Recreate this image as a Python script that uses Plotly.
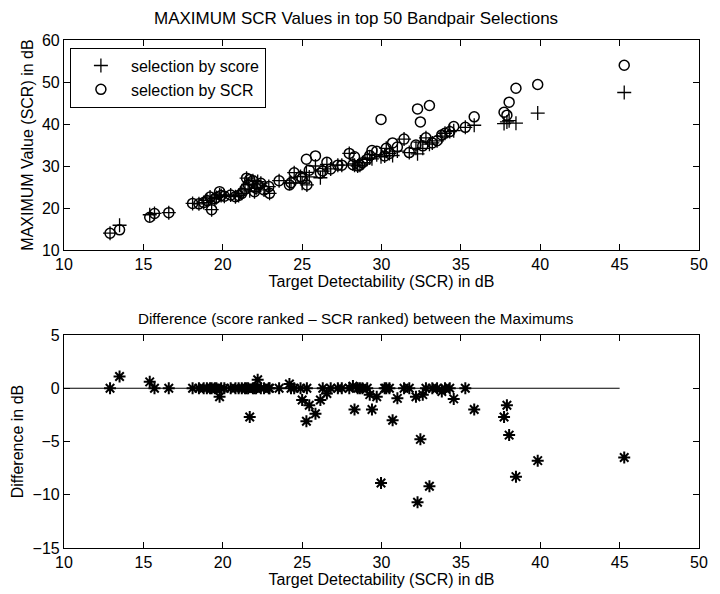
import plotly.graph_objects as go

# Target detectability (SCR) in dB for each case
target_db = [12.9, 13.5, 15.4, 15.7, 16.6, 18.1, 18.5, 18.8, 19.0, 19.2,
             19.3, 19.5, 19.6, 19.8, 19.9, 20.1, 20.5, 20.8, 21.0, 21.2,
             21.4, 21.5, 21.6, 21.7, 21.9, 22.0, 22.1, 22.2, 22.4, 22.6,
             22.9, 22.95, 23.55, 24.2, 24.3, 24.5, 24.9, 25.0, 25.3, 25.27,
             25.45, 25.84, 26.15, 26.3, 26.56, 26.8, 27.25, 27.5, 27.97, 28.2,
             28.3, 28.5, 28.64, 28.8, 29.1, 29.26, 29.4, 29.7, 29.97, 30.2,
             30.3, 30.5, 30.7, 31.0, 31.42, 31.75, 32.17, 32.27, 32.45, 32.6,
             32.8, 33.02, 33.2, 33.5, 33.8, 34.0, 34.3, 34.55, 35.28, 35.84,
             37.72, 37.9, 38.04, 38.47, 39.84, 45.29]

# Maximum SCR value of the top-50 selection ranked by SCR (circles)
scr_ranked_max = [14.0, 14.8, 17.8, 18.7, 18.9, 21.1, 21.0, 21.3, 21.8, 22.6,
                  19.6, 22.2, 22.5, 23.9, 23.0, 22.8, 23.1, 22.7, 23.0, 23.5,
                  24.5, 27.1, 25.6, 26.8, 26.5, 23.9, 24.7, 25.5, 25.9, 24.3,
                  25.1, 23.5, 26.5, 25.5, 26.0, 28.4, 27.5, 27.0, 25.5, 31.6,
                  29.0, 32.4, 28.3, 28.8, 30.9, 29.3, 30.2, 30.2, 33.0, 30.3,
                  32.2, 30.0, 30.2, 30.8, 31.6, 32.5, 33.7, 33.5, 41.1, 32.4,
                  34.2, 33.0, 35.5, 34.5, 36.4, 33.2, 35.0, 43.6, 40.5, 34.8,
                  36.7, 44.4, 35.5, 36.0, 37.4, 37.8, 38.2, 39.4, 39.2, 41.7,
                  42.8, 42.1, 45.2, 48.5, 49.4, 54.0]

# Difference (score ranked - SCR ranked) between the maximums
diff_db = [0.0, 1.1, 0.6, 0.0, 0.0, 0.0, 0.0, 0.0, 0.0, 0.0,
           0.0, 0.0, 0.0, -0.8, 0.0, 0.0, 0.0, 0.0, 0.0, 0.0,
           0.0, 0.0, 0.0, -2.7, 0.0, 0.0, 0.0, 0.8, 0.0, 0.0,
           0.0, 0.0, 0.0, 0.4, 0.0, 0.0, 0.0, -1.1, 0.0, -3.1,
           -1.6, -2.4, -1.1, 0.0, -0.5, 0.0, 0.0, 0.0, 0.0, 0.2,
           -2.0, 0.0, 0.0, 0.0, 0.0, -0.6, -2.0, -0.8, -8.9, 0.0,
           0.0, 0.0, -3.0, -0.95, 0.0, 0.0, -0.8, -10.7, -4.8, -0.6,
           0.0, -9.2, 0.0, 0.0, -0.3, 0.0, 0.0, -1.0, 0.0, -2.0,
           -2.7, -1.6, -4.4, -8.3, -6.8, -6.5]

score_ranked_max = [s + d for s, d in zip(scr_ranked_max, diff_db)]

zero_x = [10, 45]
zero_y = [0, 0]

x_ticks = [10, 15, 20, 25, 30, 35, 40, 45, 50]
top_y_ticks = [10, 20, 30, 40, 50, 60]
bot_y_ticks = [-15, -10, -5, 0, 5]

FONT = "Liberation Sans, Arial, Helvetica, sans-serif"

fig = go.Figure()

fig.add_trace(go.Scatter(
    x=target_db, y=score_ranked_max, mode="markers", name="selection by score",
    marker=dict(symbol="cross-thin-open", size=10, color="black",
                line=dict(color="black", width=1.3)),
    xaxis="x", yaxis="y"))
fig.add_trace(go.Scatter(
    x=target_db, y=scr_ranked_max, mode="markers", name="selection by SCR",
    marker=dict(symbol="circle-open", size=10, color="black",
                line=dict(color="black", width=1.5)),
    xaxis="x", yaxis="y"))

fig.add_trace(go.Scatter(
    x=zero_x, y=zero_y, mode="lines", showlegend=False,
    line=dict(color="black", width=1.2), xaxis="x2", yaxis="y2"))
fig.add_trace(go.Scatter(
    x=target_db, y=diff_db, mode="markers", showlegend=False,
    marker=dict(symbol="asterisk-open", size=10, color="black",
                line=dict(color="black", width=2)),
    xaxis="x2", yaxis="y2"))

axis_common = dict(showline=True, linecolor="black", linewidth=1.2,
                   mirror="ticks", ticks="inside", ticklen=6,
                   tickcolor="black", showgrid=False, zeroline=False,
                   tickfont=dict(size=16, color="black", family=FONT))

TITLE_X = (360 - 64) / 644

fig.update_layout(
    width=720, height=594,
    margin=dict(l=64, r=12, t=40, b=46),
    paper_bgcolor="white", plot_bgcolor="white",
    font=dict(family=FONT, color="black", size=16),
    xaxis=dict(domain=[0, 1], range=[10, 50], tickvals=x_ticks, anchor="y",
               title=dict(text="Target Detectability (SCR) in dB", standoff=0,
                          font=dict(size=16)),
               **axis_common),
    yaxis=dict(domain=[0.5866, 1.0], range=[10, 60], tickvals=top_y_ticks,
               anchor="x",
               title=dict(text="MAXIMUM Value (SCR) in dB", standoff=4,
                          font=dict(size=16)),
               **axis_common),
    xaxis2=dict(domain=[0, 1], range=[10, 50], tickvals=x_ticks, anchor="y2",
                title=dict(text="Target Detectability (SCR) in dB", standoff=0,
                           font=dict(size=16)),
                **axis_common),
    yaxis2=dict(domain=[0, 0.4193], range=[-15, 5], tickvals=bot_y_ticks,
                anchor="x2",
                title=dict(text="Difference in dB", standoff=4,
                           font=dict(size=16)),
                **axis_common),
    legend=dict(x=0.0093, y=0.985, xanchor="left", yanchor="top",
                bordercolor="black", borderwidth=1, bgcolor="white",
                font=dict(size=16, color="black", family=FONT),
                tracegroupgap=0, itemwidth=50, entrywidth=200),
    annotations=[
        dict(text="MAXIMUM SCR Values in top 50 Bandpair Selections",
             xref="paper", yref="paper", x=TITLE_X, y=1.0, yshift=10,
             xanchor="center", yanchor="bottom", showarrow=False,
             font=dict(size=17, color="black", family=FONT)),
        dict(text="Difference (score ranked \u2013 SCR ranked) between the Maximums",
             xref="paper", yref="paper", x=TITLE_X, y=0.4193, yshift=6,
             xanchor="center", yanchor="bottom", showarrow=False,
             font=dict(size=15.2, color="black", family=FONT)),
    ],
)

fig.write_html("out.html")
